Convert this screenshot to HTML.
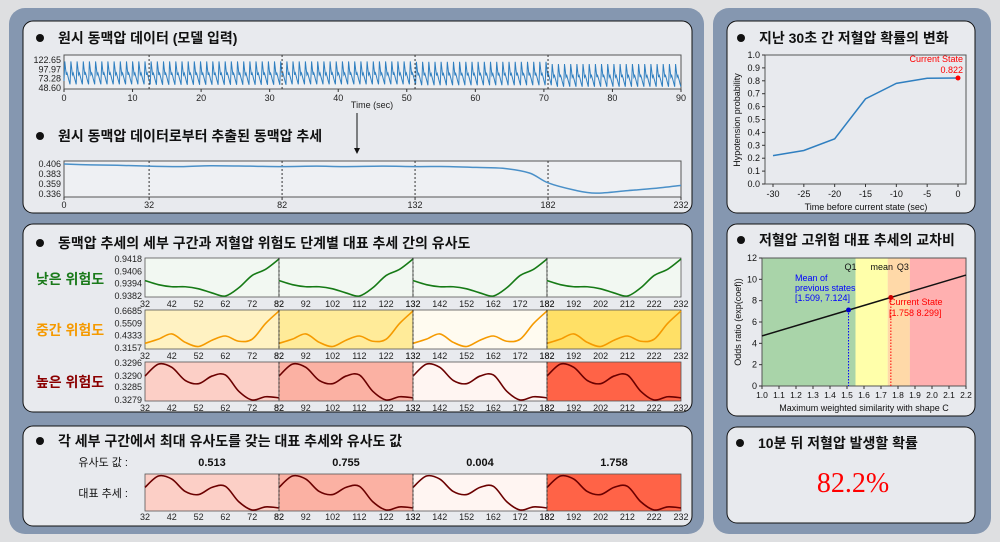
<!DOCTYPE html>
<html><head><meta charset="utf-8">
<style>
html,body{margin:0;padding:0;background:#dedfe1;}
svg{display:block;font-family:"Liberation Sans","Noto Sans CJK KR",sans-serif;}
.t{font-weight:bold;font-size:14px;fill:#111;}
</style></head><body>
<svg id="s" width="1000" height="542" viewBox="0 0 1000 542" xmlns="http://www.w3.org/2000/svg">
<rect x="9" y="8" width="695" height="526" rx="16" fill="#8597b0"/>
<rect x="713" y="8" width="278" height="526" rx="16" fill="#8597b0"/>
<rect x="23" y="21" width="669" height="192" rx="10" fill="#e8eaee" stroke="#111"/>
<rect x="23" y="224" width="669" height="188" rx="10" fill="#e8eaee" stroke="#111"/>
<rect x="23" y="426" width="669" height="100" rx="10" fill="#e8eaee" stroke="#111"/>
<rect x="727" y="21" width="248" height="192" rx="10" fill="#e8eaee" stroke="#111"/>
<rect x="727" y="224" width="248" height="192" rx="10" fill="#e8eaee" stroke="#111"/>
<rect x="727" y="427" width="248" height="96" rx="10" fill="#e8eaee" stroke="#111"/>
<g class="t">
<circle cx="40" cy="38" r="4" fill="#111"/><text x="58" y="43">원시 동맥압 데이터 (모델 입력)</text>
<circle cx="40" cy="136" r="4" fill="#111"/><text x="58" y="141">원시 동맥압 데이터로부터 추출된 동맥압 추세</text>
<circle cx="40" cy="243" r="4" fill="#111"/><text x="58" y="248">동맥압 추세의 세부 구간과 저혈압 위험도 단계별 대표 추세 간의 유사도</text>
<circle cx="40" cy="441" r="4" fill="#111"/><text x="58" y="446">각 세부 구간에서 최대 유사도를 갖는 대표 추세와 유사도 값</text>
<circle cx="741" cy="38" r="4" fill="#111"/><text x="759" y="43">지난 30초 간 저혈압 확률의 변화</text>
<circle cx="741" cy="240" r="4" fill="#111"/><text x="759" y="245">저혈압 고위험 대표 추세의 교차비</text>
<circle cx="740" cy="443" r="4" fill="#111"/><text x="758" y="448">10분 뒤 저혈압 발생할 확률</text>
</g>
<text x="853" y="492" text-anchor="middle" font-family="Liberation Serif,serif" font-size="28" fill="#f00">82.2%</text>
<text x="372" y="108" font-size="9" fill="#222" text-anchor="middle">Time (sec)</text>
<line x1="357" y1="113" x2="357" y2="150" stroke="#111"/>
<path d="M354,148 L360,148 L357,154Z" fill="#111"/>
<g font-size="14" font-weight="bold">
<text x="70" y="284" fill="#1a7a1a" text-anchor="middle">낮은 위험도</text>
<text x="70" y="335" fill="#f59a00" text-anchor="middle">중간 위험도</text>
<text x="70" y="387" fill="#8b0000" text-anchor="middle">높은 위험도</text>
</g>
<g font-size="11" fill="#111">
<text x="128" y="466" text-anchor="end">유사도 값 :</text>
<text x="128" y="497" text-anchor="end">대표 추세 :</text>
</g>
<g id="g"></g>
</svg>
<script>
// ---- data ----
const rawSegPeaks = [119, 119, 119, 118, 112];
const rawSegTroughs = [58, 57, 58, 56, 52];
const beatTemplate = [0.15, 1.0, 0.7, 0.42, 0.5, 0.38, 0.25, 0.12, 0.0];
const trendX = [0, 10, 20, 32, 45, 55, 70, 82, 95, 105, 120, 132, 145, 155, 165, 175, 182, 192, 200, 212, 222, 232];
const trendY = [0.406, 0.404, 0.403, 0.401, 0.400, 0.402, 0.401, 0.400, 0.401, 0.400, 0.401, 0.400, 0.400, 0.398, 0.396, 0.385, 0.362, 0.345, 0.338, 0.344, 0.349, 0.356];
const segTicks = [0, 32, 82, 132, 182, 232];
const repX = [32, 37, 42, 47, 52, 57, 62, 67, 72, 77, 82];
const lowY = [0.9397, 0.9393, 0.9391, 0.9391, 0.9389, 0.9385, 0.9382, 0.9390, 0.9402, 0.9408, 0.9418];
const midY = [0.36, 0.40, 0.45, 0.37, 0.33, 0.39, 0.43, 0.38, 0.40, 0.55, 0.6685];
const highY = [0.3290, 0.32955, 0.3294, 0.3288, 0.32865, 0.3290, 0.32905, 0.3283, 0.3279, 0.32805, 0.3280];
const lowTicks = ['0.9418', '0.9406', '0.9394', '0.9382'];
const midTicks = ['0.6685', '0.5509', '0.4333', '0.3157'];
const highTicks = ['0.3296', '0.3290', '0.3285', '0.3279'];
const lowBg = ['#f2f8f2', '#f2f8f2', '#f2f8f2', '#f2f8f2'];
const midBg = ['#fff2c2', '#ffeb99', '#fffbf0', '#ffe066'];
const highBg = ['#fccfc6', '#fbb1a3', '#fff5f2', '#ff6347'];
const simValues = ['0.513', '0.755', '0.004', '1.758'];
const probX = [-30, -25, -20, -15, -10, -5, 0];
const probY = [0.22, 0.26, 0.35, 0.66, 0.78, 0.82, 0.822];
const bandEdges = [1.0, 1.55, 1.74, 1.87, 2.2];
const bandColors = ['#a9d4a9', '#ffffaa', '#ffd9a8', '#ffb0b0'];
const orLine = [[1.0, 4.7], [2.2, 10.4]];
const meanPt = [1.509, 7.124];
const curPt = [1.758, 8.299];

const NS = 'http://www.w3.org/2000/svg';
const G = document.getElementById('g');
function el(tag, attrs, parent) {
  const e = document.createElementNS(NS, tag);
  for (const k in attrs) e.setAttribute(k, attrs[k]);
  (parent || G).appendChild(e);
  return e;
}
function txt(x, y, s, anchor, size, fill, name) {
  const t = el('text', {x: x, y: y, 'text-anchor': anchor || 'middle', 'font-size': size || 9, fill: fill || '#222'});
  t.textContent = s;
  
  
  return t;
}
function lin(d0, d1, r0, r1) { return v => r0 + (v - d0) / (d1 - d0) * (r1 - r0); }
function smooth(pts) {
  let d = 'M' + pts[0][0] + ',' + pts[0][1];
  for (let i = 0; i < pts.length - 1; i++) {
    const p0 = pts[Math.max(i - 1, 0)], p1 = pts[i], p2 = pts[i + 1], p3 = pts[Math.min(i + 2, pts.length - 1)];
    const c1 = [p1[0] + (p2[0] - p0[0]) / 6, p1[1] + (p2[1] - p0[1]) / 6];
    const c2 = [p2[0] - (p3[0] - p1[0]) / 6, p2[1] - (p3[1] - p1[1]) / 6];
    d += ` C${c1[0]},${c1[1]} ${c2[0]},${c2[1]} ${p2[0]},${p2[1]}`;
  }
  return d;
}

// ---- raw ABP ----
(function () {
  const x = lin(0, 90, 64, 681), y = lin(48.6, 122.65, 88, 60);
  el('rect', {x: 64, y: 55, width: 617, height: 34, fill: '#eef0f3', stroke: '#555'});
  const segT = segTicks.map(v => v / 232 * 90);
  let d = '';
  const period = 0.9;
  for (let t0 = 0; t0 < 90; t0 += period) {
    let seg = 0; while (seg < 4 && t0 >= segT[seg + 1]) seg++;
    const pk = rawSegPeaks[seg], tr = rawSegTroughs[seg];
    beatTemplate.forEach((b, i) => {
      const t = t0 + i / (beatTemplate.length - 1) * period * 0.98;
      if (t > 90) return;
      d += (d ? 'L' : 'M') + x(t).toFixed(1) + ',' + y(tr + b * (pk - tr)).toFixed(1);
    });
  }
  const p = el('path', {d: d, fill: 'none', stroke: '#2f7fc0', 'stroke-width': 1});
  
  
  segT.slice(1, 5).forEach(t => el('line', {x1: x(t), x2: x(t), y1: 55, y2: 89, stroke: '#333', 'stroke-dasharray': '2,2'}));
  ['122.65', '97.97', '73.28', '48.60'].forEach(s => txt(61, y(+s) + 3, s, 'end', 9));
  for (let t = 0; t <= 90; t += 10) { el('line', {x1: x(t), x2: x(t), y1: 89, y2: 92, stroke: '#333'}); txt(x(t), 101, t); }
})();

// ---- trend ----
(function () {
  const x = lin(0, 232, 64, 681), y = lin(0.336, 0.406, 194, 164);
  el('rect', {x: 64, y: 161, width: 617, height: 36, fill: '#eef0f3', stroke: '#555'});
  segTicks.slice(1, 5).forEach(t => el('line', {x1: x(t), x2: x(t), y1: 161, y2: 197, stroke: '#333', 'stroke-dasharray': '2,2'}));
  const p = el('path', {d: smooth(trendX.map((v, i) => [x(v), y(trendY[i])])), fill: 'none', stroke: '#4a90c8', 'stroke-width': 1.5});
  
  
  ['0.406', '0.383', '0.359', '0.336'].forEach(s => txt(61, y(+s) + 3, s, 'end', 9));
  segTicks.forEach(t => { el('line', {x1: x(t), x2: x(t), y1: 197, y2: 200, stroke: '#333'}); txt(x(t), 208, t); });
})();

// ---- similarity rows ----
function repRow(top, h, ys, ticks, bgs, color, name, tickY, showYTicks) {
  const lo = +ticks[3], hi = +ticks[0];
  const y = lin(lo, hi, top + h - 1, top + 1);
  for (let s = 0; s < 4; s++) {
    const x0 = 32 + s * 50;
    const x = lin(x0, x0 + 50, 145 + s * 134, 145 + (s + 1) * 134);
    el('rect', {x: x(x0), y: top, width: 134, height: h, fill: bgs[s], stroke: '#555', 'stroke-width': 0.8});
    const p = el('path', {d: smooth(repX.map((v, i) => [x(v - 32 + x0), y(ys[i])])), fill: 'none', stroke: color, 'stroke-width': 1.6});
    
    
    for (let t = x0; t <= x0 + 50; t += 10) txt(x(t), tickY, t, 'middle', 9);
  }
  for (let s = 1; s < 4; s++) el('line', {x1: 145 + s * 134, x2: 145 + s * 134, y1: top, y2: top + h, stroke: '#333', 'stroke-dasharray': '2,2'});
  if (showYTicks) ticks.forEach(s => txt(142, y(+s) + 3, s, 'end', 9));
}
repRow(258, 39, lowY, lowTicks, lowBg, '#167a16', 'low-risk', 307, true);
repRow(310, 39, midY, midTicks, midBg, '#f59a00', 'mid-risk', 359, true);
repRow(362, 39, highY, highTicks, highBg, '#6b0000', 'high-risk', 411, true);
repRow(474, 37, highY, highTicks, highBg, '#6b0000', 'best-match', 520, false);
simValues.forEach((v, i) => { const t = txt(212 + i * 134, 466, v, 'middle', 11, '#111', 'similarity-value'); t.setAttribute('font-weight', 'bold'); });

// ---- probability chart ----
(function () {
  const x = lin(-30, 0, 773, 958), y = lin(0, 1, 184, 55);
  el('rect', {x: 765, y: 55, width: 201, height: 129, fill: '#e8eaee', stroke: '#555'});
  for (let v = 0; v <= 10; v++) { el('line', {x1: 762, x2: 765, y1: y(v / 10), y2: y(v / 10), stroke: '#333'}); txt(760, y(v / 10) + 3, (v / 10).toFixed(1), 'end', 9, '#111'); }
  probX.forEach(v => { el('line', {x1: x(v), x2: x(v), y1: 184, y2: 187, stroke: '#333'}); txt(x(v), 197, v, 'middle', 9, '#111'); });
  const p = el('polyline', {points: probX.map((v, i) => x(v) + ',' + y(probY[i])).join(' '), fill: 'none', stroke: '#2f7fc0', 'stroke-width': 1.5});
  
  
  const n = probX.length - 1;
  const c = el('circle', {cx: x(probX[n]), cy: y(probY[n]), r: 2.5, fill: '#f00'});
  
  
  txt(963, y(probY[n]) - 16, 'Current State', 'end', 9, '#f00', 'current-state-label');
  txt(963, y(probY[n]) - 5, probY[n].toFixed(3), 'end', 9, '#f00', 'current-state-value');
  txt(866, 210, 'Time before current state (sec)', 'middle', 9, '#111', 'x-axis-title');
  const yt = txt(0, 0, 'Hypotension probability', 'middle', 9, '#111', 'y-axis-title');
  yt.setAttribute('transform', 'translate(740,120) rotate(-90)');
})();

// ---- odds ratio chart ----
(function () {
  const x = lin(1.0, 2.2, 762, 966), y = lin(0, 12, 386, 258);
  for (let i = 0; i < 4; i++) {
    const r = el('rect', {x: x(bandEdges[i]), y: 258, width: x(bandEdges[i + 1]) - x(bandEdges[i]), height: 128, fill: bandColors[i]});
    
    
  }
  el('rect', {x: 762, y: 258, width: 204, height: 128, fill: 'none', stroke: '#555'});
  txt(x(bandEdges[1]) - 5, 270, 'Q1', 'middle', 9, '#111');
  txt(x(bandEdges[2]) - 6, 270, 'mean', 'middle', 9, '#111');
  txt(x(bandEdges[3]) - 7, 270, 'Q3', 'middle', 9, '#111');
  const l = el('line', {x1: x(orLine[0][0]), y1: y(orLine[0][1]), x2: x(orLine[1][0]), y2: y(orLine[1][1]), stroke: '#111', 'stroke-width': 1.5});
  
  
  el('line', {x1: x(meanPt[0]), x2: x(meanPt[0]), y1: y(meanPt[1]), y2: 386, stroke: '#00f', 'stroke-dasharray': '1.5,1.5'});
  el('line', {x1: x(curPt[0]), x2: x(curPt[0]), y1: y(curPt[1]), y2: 386, stroke: '#f00', 'stroke-dasharray': '1.5,1.5'});
  const m = el('circle', {cx: x(meanPt[0]), cy: y(meanPt[1]), r: 2.5, fill: '#00c'});
  
  
  const c = el('circle', {cx: x(curPt[0]), cy: y(curPt[1]), r: 2.5, fill: '#c00'});
  
  
  txt(795, 281, 'Mean of', 'start', 9, '#00f', 'mean-label');
  txt(795, 291, 'previous states', 'start', 9, '#00f', 'mean-label');
  txt(795, 301, '[' + meanPt.join(', ') + ']', 'start', 9, '#00f', 'mean-value');
  txt(889, 305, 'Current State', 'start', 9, '#f00', 'current-label');
  txt(889, 316, '[' + curPt.join(' ') + ']', 'start', 9, '#f00', 'current-value');
  for (let v = 0; v <= 12; v += 2) { el('line', {x1: 759, x2: 762, y1: y(v), y2: y(v), stroke: '#333'}); txt(757, y(v) + 3, v, 'end', 9, '#111'); }
  for (let i = 0; i <= 12; i++) { const v = 1 + i / 10; el('line', {x1: x(v), x2: x(v), y1: 386, y2: 389, stroke: '#333'}); txt(x(v), 398, v.toFixed(1), 'middle', 8.5, '#111'); }
  txt(864, 411, 'Maximum weighted similarity with shape C', 'middle', 9, '#111', 'x-axis-title');
  const yt = txt(0, 0, 'Odds ratio (exp(coef))', 'middle', 9, '#111', 'y-axis-title');
  yt.setAttribute('transform', 'translate(741,322) rotate(-90)');
})();
</script>
</body></html>
